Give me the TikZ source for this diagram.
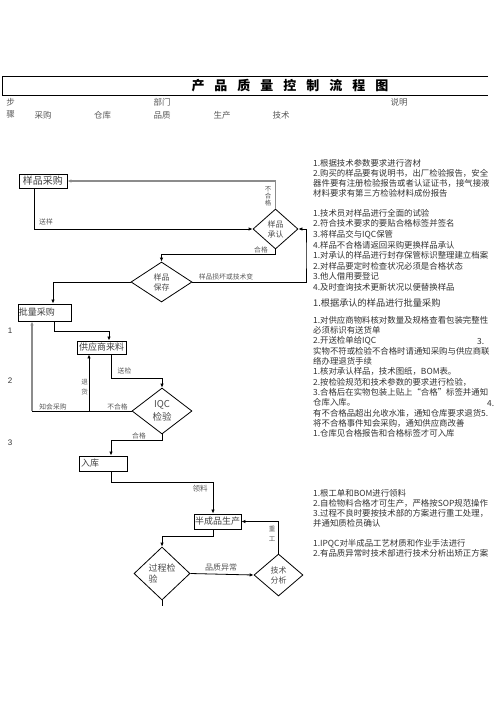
\documentclass[tikz,border=0pt]{standalone}
\usepackage{fontspec}
\newfontfamily\cjk{Noto Sans CJK SC}
\newfontfamily\arial{Liberation Sans}
\usetikzlibrary{shapes.geometric,arrows.meta,calc}
\begin{document}
\begin{tikzpicture}[x=1pt,y=-1pt,
  box/.style={draw, line width=0.9pt, inner sep=0pt, text=black!75, font=\cjk\fontsize{9}{10}\selectfont},
  dia/.style={draw, diamond, line width=0.8pt, inner sep=0pt, align=center, text=black!70, font=\cjk\fontsize{8}{10}\selectfont},
  ln/.style={line width=0.8pt},
  arr/.style={ln, -{Latex[length=4pt,width=3.5pt]}},
  gln/.style={line width=1.6pt, draw=black!45},
  garr/.style={gln, -{Latex[length=4pt,width=3.5pt]}},
  lab/.style={inner sep=0pt, text=black!65, font=\cjk\fontsize{6.8}{7.5}\selectfont},
  head/.style={inner sep=0pt, text=black!65, font=\cjk\fontsize{8.5}{10}\selectfont},
  num/.style={inner sep=0pt, text=black!80, font=\arial\fontsize{8}{10}\selectfont},
  note/.style={inner sep=0pt, anchor=north west, align=left, text width=185pt, text=black!80}
]
\useasboundingbox (0,0) rectangle (496,702);
\fill[white] (0,0) rectangle (496,702);

% title bar
\draw[line width=1pt] (488,76) -- (2,76) -- (2,95) -- (488,95);
\node[inner sep=0pt, font=\cjk\bfseries\fontsize{13}{15}\selectfont] (title) at (290,86)
  {产\hspace{10pt}品\hspace{10pt}质\hspace{10pt}量\hspace{10pt}控\hspace{10pt}制\hspace{10pt}流\hspace{10pt}程\hspace{10pt}图};

% header
\node[head] (h1) at (10.5,102) {步};
\node[head] (h2) at (10.5,114.5) {骤};
\node[head] (h3) at (162,102) {部门};
\node[head] (h4) at (399,102) {说明};
\node[head] (h5) at (43,115) {采购};
\node[head] (h6) at (102.5,115) {仓库};
\node[head] (h7) at (162,115) {品质};
\node[head] (h8) at (222,115) {生产};
\node[head] (h9) at (281,115) {技术};

% step numbers
\node[num] (n1) at (10,331) {1};
\node[num] (n2) at (10,381) {2};
\node[num] (n3) at (10,443) {3};

% boxes
\node[box, minimum width=48, minimum height=14, font=\cjk\fontsize{10}{11}\selectfont] (sp) at (43,181) {样品采购};
\node[box, minimum width=53, minimum height=17, text width=51, align=left] (pl) at (44.5,312.5) {批量采购};
\node[box, minimum width=49, minimum height=13] (gy) at (101.5,347.5) {供应商来料};
\node[box, minimum width=48, minimum height=15, text width=44, align=left] (rk) at (103,463.5) {入库};
\node[box, minimum width=47, minimum height=15] (bc) at (217.5,521.5) {半成品生产};

% diamonds
\node[dia, minimum width=45, minimum height=40] (sr) at (275.5,229) {样品\\承认};
\node[dia, minimum width=61, minimum height=40] (bc2) at (161.5,282) {样品\\保存};
\node[dia, minimum width=60, minimum height=46, font=\cjk\fontsize{9.5}{13}\selectfont] (iqc) at (162,411) {IQC\\检验};
\node[dia, minimum width=56, minimum height=53, align=left, font=\cjk\fontsize{9}{12}\selectfont] (gc) at (162,573.5) {过程检\\验};
\node[dia, minimum width=49, minimum height=42] (js) at (278.5,575) {技术\\分析};

% connectors
\draw[garr] (sr.north) |- (sp.east);
\node[lab, align=center, font=\cjk\fontsize{6.5}{7}\selectfont] (l1) at (268,196) {不\\合\\格};

\draw[arr] ([xshift=-9pt]sp.south) |- (sr.west);
\node[lab] (l2) at (46,222) {送样};

\draw[arr] (sr.south) -- ++(0,5) -| (bc2.north);
\node[lab] (l3) at (261,250) {合格};

\coordinate (c1) at (306,255);
\draw[arr] (bc2.east) -| (c1) |- (sr.east);
\node[lab] (l4) at (226,276.5) {样品损坏或技术变};

\draw[arr] (bc2.west) -| ([xshift=8.5pt]pl.north);

\draw[arr] ([xshift=9.5pt]pl.south) -- ++(0,10) -| ([xshift=7.5pt]gy.north);

\draw[arr] ([xshift=9.5pt]gy.south) -- ++(0,24) -| (iqc.north);
\node[lab] (l5) at (124.5,370.5) {送检};

\coordinate (c2) at (32,411);
\coordinate (c3) at (89,411);
\draw[ln] (iqc.west) -- (c2);
\draw[garr] (c2) -- (c2 |- pl.south);
\draw[arr] (c3) -- (c3 |- gy.south);
\node[lab] (l6) at (53,406.5) {知会采购};
\node[lab] (l7) at (117.5,406.5) {不合格};
\node[lab, align=center, font=\cjk\fontsize{6.5}{10}\selectfont] (l8) at (84.5,387) {退\\货};

\draw[arr] (iqc.south) -- ++(0,6) -| ([xshift=8pt]rk.north);
\node[lab] (l9) at (139,435.5) {合格};

\draw[arr] ([xshift=8pt]rk.south) -- ++(0,11) -| ([xshift=-4.5pt]bc.north);
\node[lab, font=\cjk\fontsize{7.5}{8}\selectfont] (l10) at (200,489) {领料};

\draw[arr] ([xshift=-4.5pt]bc.south) -- ++(0,7) -| (gc.north);

\draw[arr] (gc.east) -- (js.west);
\node[lab, font=\cjk\fontsize{8}{9}\selectfont] (l11) at (221,567.5) {品质异常};

\draw[arr] (js.north) |- (bc.east);
\node[lab, align=center, font=\cjk\fontsize{6.5}{10}\selectfont] (l12) at (272,534) {重\\工};

\draw[ln] (gc.south) -- ++(0,6);

% notes
\node[note, font=\cjk\fontsize{8.4}{10}\selectfont] (t1) at (313,159) {1.根据技术参数要求进行咨材\\
2.购买的样品要有说明书，出厂检验报告，安全\\
器件要有注册检验报告或者认证证书，接气接液\\
材料要求有第三方检验材料成份报告};

\node[note, font=\cjk\fontsize{8.4}{10.6}\selectfont] (t2) at (313,209) {1.技术员对样品进行全面的试验\\
2.符合技术要求的要贴合格标签并签名\\
3.将样品交与IQC保管\\
4.样品不合格请返回采购更换样品承认\\
1.对承认的样品进行封存保管标识整理建立档案\\
2.对样品要定时检查状况必须是合格状态\\
3.他人借用要登记\\
4.及时查询技术更新状况以便替换样品};

\node[note, font=\cjk\fontsize{9.2}{11}\selectfont] (t3) at (313,298.5) {1.根据承认的样品进行批量采购};

\node[note, font=\cjk\fontsize{8.4}{10.3}\selectfont] (t4) at (313,316) {1.对供应商物料核对数量及规格查看包装完整性\\
必须标识有送货单\\
2.开送检单给IQC\\
实物不符或检验不合格时请通知采购与供应商联\\
络办理退货手续\\
1.核对承认样品，技术图纸，BOM表。\\
2.按检验规范和技术参数的要求进行检验，\\
3.合格后在实物包装上贴上“合格”标签并通知\\
仓库入库。\\
有不合格品超出允收水准，通知仓库要求退货5.\\
将不合格事件知会采购，通知供应商改善\\
1.仓库见合格报告和合格标签才可入库};
\node[note, text width=, font=\cjk\fontsize{8.4}{10}\selectfont, anchor=west] (t4a) at (477,341) {3.};
\node[note, text width=, font=\cjk\fontsize{8.4}{10}\selectfont, anchor=west] (t4b) at (487,403.5) {4.};

\node[note, font=\cjk\fontsize{8.4}{10}\selectfont] (t5) at (313,489.4) {1.根工单和BOM进行领料\\
2.自检物料合格才可生产，严格按SOP规范操作\\
3.过程不良时要按技术部的方案进行重工处理，\\
并通知质检员确认};

\node[note, font=\cjk\fontsize{8.4}{10}\selectfont] (t6) at (313,539.4) {1.IPQC对半成品工艺材质和作业手法进行\\
2.有品质异常时技术部进行技术分析出矫正方案};
\end{tikzpicture}
\end{document}
